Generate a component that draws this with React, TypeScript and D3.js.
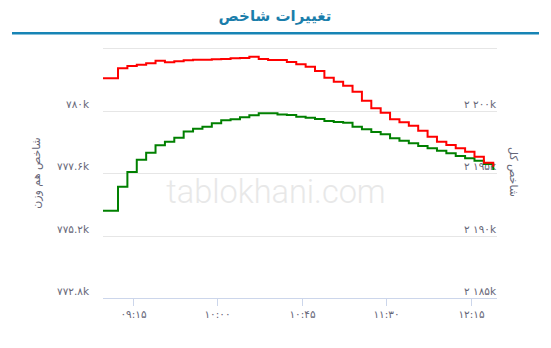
import React from "react";
import * as d3 from "d3";

const times = [
  "08:59", "09:07", "09:12", "09:17", "09:22", "09:27", "09:32", "09:37", "09:42", "09:47",
  "09:52", "09:57", "10:02", "10:07", "10:12", "10:17", "10:22", "10:27", "10:32", "10:37",
  "10:42", "10:47", "10:52", "10:57", "11:02", "11:07", "11:12", "11:17", "11:22", "11:27",
  "11:32", "11:37", "11:42", "11:47", "11:52", "11:57", "12:02", "12:07", "12:12", "12:17",
  "12:22", "12:27",
];

// شاخص هم وزن (left axis)
const equalWeight = [
  776150, 777074, 777638, 778111, 778380, 778664, 778802, 778956, 779194, 779301,
  779378, 779508, 779624, 779666, 779739, 779820, 779892, 779895, 779846, 779827,
  779762, 779724, 779674, 779597, 779558, 779532, 779378, 779278, 779174, 779086,
  778936, 778840, 778740, 778637, 778548, 778456, 778356, 778253, 778164, 778072,
  777946, 777715,
];

// شاخص کل (right axis)
const totalIndex = [
  2202576, 2203376, 2203560, 2203664, 2203776, 2203984, 2203856, 2203936, 2204016, 2204056,
  2204064, 2204096, 2204120, 2204176, 2204200, 2204304, 2204120, 2204040, 2204040, 2203880,
  2203696, 2203504, 2203160, 2202624, 2202304, 2201984, 2201504, 2200784, 2200176, 2199824,
  2199296, 2199056, 2198784, 2198384, 2197904, 2197504, 2197240, 2196976, 2196704, 2196304,
  2195824, 2195504,
];

const leftTicks = [772800, 775200, 777600, 780000, 782400];
const rightTicks = [2185000, 2190000, 2195000, 2200000, 2205000];
const xTicks = ["09:15", "10:00", "10:45", "11:30", "12:15"];
const xDomain = ["08:59", "12:29"];

const title = "تغییرات شاخص";
const leftTitle = "شاخص هم وزن";
const rightTitle = "شاخص کل";
const watermark = "tablokhani.com";

const fa = "۰۱۲۳۴۵۶۷۸۹";
const toFa = (s: string) => s.replace(/[0-9]/g, (d) => fa[+d]);

const W = 551;
const H = 348;
const plot = { left: 103, right: 497, top: 48, bottom: 298 };
const parse = d3.timeParse("%H:%M");

export default function App() {
  const x = d3
    .scaleTime()
    .domain(xDomain.map((t) => parse(t) as Date))
    .range([plot.left, plot.right]);
  const yL = d3.scaleLinear().domain([772800, 782400]).range([plot.bottom, plot.top]);
  const yR = d3.scaleLinear().domain([2185000, 2205000]).range([plot.bottom, plot.top]);

  const dates = times.map((t) => parse(t) as Date);
  const lineL = d3
    .line<number>()
    .x((_, i) => x(dates[i]))
    .y((v) => yL(v))
    .curve(d3.curveStepAfter);
  const lineR = d3
    .line<number>()
    .x((_, i) => x(dates[i]))
    .y((v) => yR(v))
    .curve(d3.curveStepAfter);

  const fmtL = (v: number) => {
    const k = v / 1000;
    const s = Number.isInteger(k) ? String(k) : k.toFixed(1);
    return toFa(s) + "k";
  };
  const fmtR = (v: number) => {
    const k = Math.round(v / 1000);
    const s = String(k);
    const grouped = s.length > 3 ? s.slice(0, s.length - 3) + " " + s.slice(-3) : s;
    return toFa(grouped) + "k";
  };

  const faFont = "'DejaVu Sans', sans-serif";
  const labelColor = "#666677";

  return (
    <svg
      width={W}
      height={H}
      style={{ position: "absolute", left: 0, top: 0, background: "#fff" }}
    >
      <rect x={0} y={0} width={W} height={H} fill="#fff" />
      <text
        x={275}
        y={21}
        textAnchor="middle"
        fontFamily={faFont}
        fontWeight="bold"
        fontSize={15}
        fill="#1b7eab"
        direction="rtl"
      >
        {title}
      </text>
      <rect x={12} y={32} width={527} height={2.5} fill="#1784b5" />

      {/* gridlines */}
      {leftTicks.map((t) => (
        <line
          key={t}
          x1={plot.left}
          x2={plot.right}
          y1={Math.round(yL(t)) + 0.5}
          y2={Math.round(yL(t)) + 0.5}
          stroke="#e6e6e6"
          strokeWidth={1}
        />
      ))}
      {/* x axis line */}
      <line
        x1={plot.left}
        x2={plot.right}
        y1={plot.bottom + 0.5}
        y2={plot.bottom + 0.5}
        stroke="#ccd6eb"
      />
      {xTicks.map((t) => {
        const xv = Math.round(x(parse(t) as Date)) + 0.5;
        return (
          <g key={t}>
            <line x1={xv} x2={xv} y1={plot.bottom} y2={plot.bottom + 8} stroke="#ccd6eb" />
            <text
              x={xv}
              y={318}
              textAnchor="middle"
              fontFamily={faFont}
              fontSize={10.5}
              fill={labelColor}
            >
              {toFa(t)}
            </text>
          </g>
        );
      })}

      {/* watermark */}
      <text
        x={276}
        y={203}
        textAnchor="middle"
        fontFamily="Roboto, sans-serif"
        fontWeight={300}
        fontSize={32.5}
        fill="#e8e8e8"
      >
        {watermark}
      </text>

      {/* left labels */}
      {leftTicks.slice(0, 4).map((t) => (
        <text
          key={t}
          x={89}
          y={yL(t) - 3}
          textAnchor="end"
          fontFamily={faFont}
          fontSize={10.5}
          fill={labelColor}
          style={{ direction: "ltr" }}
        >
          {fmtL(t)}
        </text>
      ))}
      {/* right labels */}
      {rightTicks.slice(0, 4).map((t) => (
        <text
          key={t}
          x={496}
          y={yR(t) - 3}
          textAnchor="end"
          fontFamily={faFont}
          fontSize={10.5}
          fill={labelColor}
          style={{ direction: "ltr" }}
        >
          {fmtR(t)}
        </text>
      ))}

      {/* axis titles */}
      <text
        transform={`translate(40, 173) rotate(-90)`}
        textAnchor="middle"
        fontFamily={faFont}
        fontSize={11}
        fill={labelColor}
      >
        {leftTitle}
      </text>
      <text
        transform={`translate(510, 172) rotate(90)`}
        textAnchor="middle"
        fontFamily={faFont}
        fontSize={11}
        fill={labelColor}
      >
        {rightTitle}
      </text>

      {/* series */}
      <path d={lineL(equalWeight) || ""} fill="none" stroke="#008000" strokeWidth={2} />
      <path d={lineR(totalIndex) || ""} fill="none" stroke="#ff0000" strokeWidth={2} />
    </svg>
  );
}
